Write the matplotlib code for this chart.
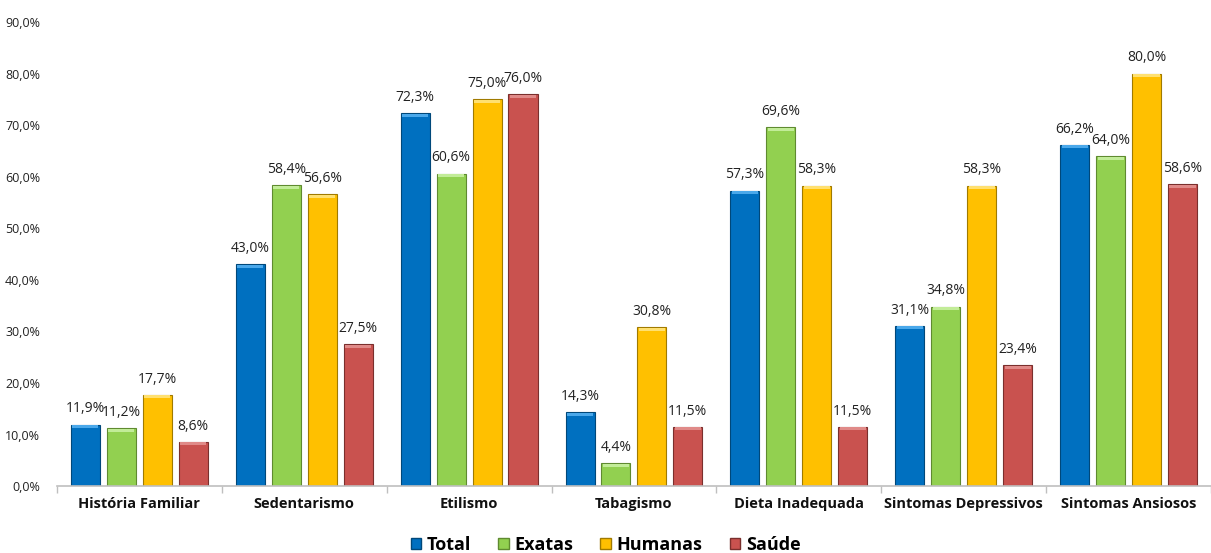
import matplotlib.pyplot as plt
import numpy as np
from matplotlib.patches import Patch

plt.rcParams["font.family"] = ["Open Sans", "DejaVu Sans"]

categorias = ["História Familiar", "Sedentarismo", "Etilismo", "Tabagismo",
              "Dieta Inadequada", "Sintomas Depressivos", "Sintomas Ansiosos"]
series = ["Total", "Exatas", "Humanas", "Saúde"]
total = [11.9, 43.0, 72.3, 14.3, 57.3, 31.1, 66.2]
exatas = [11.2, 58.4, 60.6, 4.4, 69.6, 34.8, 64.0]
humanas = [17.7, 56.6, 75.0, 30.8, 58.3, 58.3, 80.0]
saude = [8.6, 27.5, 76.0, 11.5, 11.5, 23.4, 58.6]

cores = ["#0070C0", "#92D050", "#FFC000", "#C9524F"]
bordas = ["#00487a", "#5f8a30", "#a07a00", "#7a2f2d"]
topos = ["#4aa8ea", "#c2ec98", "#ffe070", "#e08a88"]

fig = plt.figure(figsize=(12.11, 5.53), dpi=100)
ax = fig.add_axes([0.047, 0.121, 0.953, 0.839])

x = np.arange(len(categorias))
largura = 0.176
passo = 0.218
valores = [total, exatas, humanas, saude]

for i, vals in enumerate(valores):
    pos = x + (i - 1.5) * passo
    ax.bar(pos, vals, largura, color=cores[i], edgecolor=bordas[i], linewidth=0.8, zorder=2)
    # brilho no topo da barra
    ax.bar(pos, [0.6] * len(vals), largura * 0.9, bottom=np.array(vals) - 0.7,
           color=topos[i], linewidth=0, zorder=3)
    for p, v in zip(pos, vals):
        ax.text(p, v + 1.6, f"{v:.1f}%".replace(".", ","), ha="center", va="bottom",
                fontsize=10, color="#222222")

ax.set_xlim(-0.5, len(categorias) - 0.5)
ax.set_ylim(0, 90)
ax.set_yticks(np.arange(0, 91, 10))
ax.set_yticklabels([f"{t:.1f}%".replace(".", ",") for t in np.arange(0, 91, 10)],
                   fontsize=9, color="#222222")
ax.tick_params(axis="y", length=0, pad=12)

ax.set_xticks(x)
ax.set_xticklabels(categorias, fontsize=10.5, fontweight="bold", color="#111111")
ax.tick_params(axis="x", length=0, pad=8)
ax.set_xticks(np.arange(-0.5, len(categorias)), minor=True)
ax.tick_params(axis="x", which="minor", length=5, color="#bfbfbf", width=1)

for s in ["top", "right", "left"]:
    ax.spines[s].set_visible(False)
ax.spines["bottom"].set_color("#bfbfbf")
ax.spines["bottom"].set_linewidth(1.2)

handles = [Patch(facecolor=cores[i], edgecolor=bordas[i]) for i in range(4)]
fig.legend(handles, series, loc="center", bbox_to_anchor=(0.5, 0.015), ncol=4,
           frameon=False, prop={"weight": "bold", "size": 13},
           handlelength=0.6, handleheight=0.6, handletextpad=0.3, columnspacing=1.5)

fig.savefig("out.png", dpi=100)
